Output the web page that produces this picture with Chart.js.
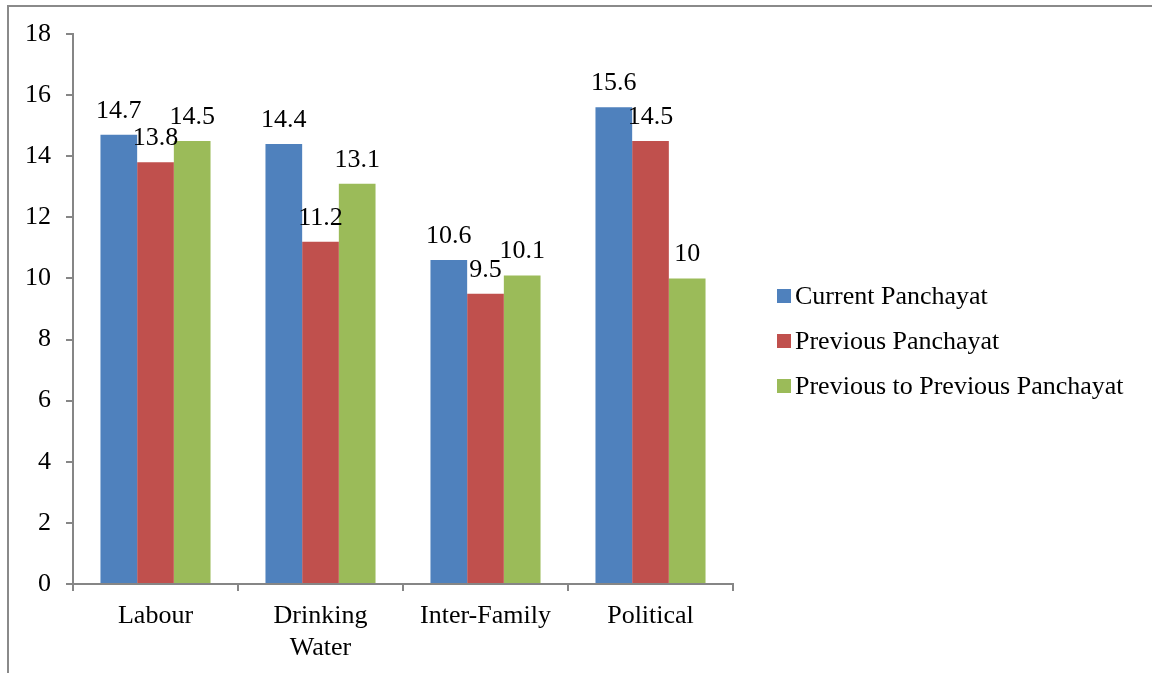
<!DOCTYPE html>
<html>
<head>
<meta charset="utf-8">
<title>Panchayat disputes</title>
<script src="https://cdn.jsdelivr.net/npm/chart.js@4.4.1/dist/chart.umd.min.js"></script>
<style>
  html, body { margin: 0; padding: 0; background: #fff; overflow: hidden; }
  #wrap { position: relative; width: 1152px; height: 673px; }
  #frame {
    position: absolute; left: 7px; top: 5px; width: 1200px; height: 700px;
    border-top: 2px solid #8a8a8a; border-left: 2px solid #8a8a8a;
  }
  #chart { position: absolute; left: 0; top: 0; }
</style>
</head>
<body>
<div id="wrap">
  <div id="frame"></div>
  <canvas id="chart" width="1152" height="673"></canvas>
</div>
<script>
// categorias e séries
const categorias = [['Labour'], ['Drinking', 'Water'], ['Inter-Family'], ['Political']];
const seriesNomes = ['Current Panchayat', 'Previous Panchayat', 'Previous to Previous Panchayat'];
const atual        = [14.7, 14.4, 10.6, 15.6];
const anterior     = [13.8, 11.2, 9.5, 14.5];
const anteAnterior = [14.5, 13.1, 10.1, 10];
const yTicks = [0, 2, 4, 6, 8, 10, 12, 14, 16, 18];

const cores = ['#4F81BD', '#C0504D', '#9BBB59'];
const FONTE = 'Liberation Serif';
const TAM = 26;
const CINZA = '#868686';

// rótulos de valor acima de cada barra
const rotulosPlugin = {
  id: 'rotulos',
  afterDatasetsDraw(chart) {
    const ctx = chart.ctx;
    ctx.save();
    ctx.font = `${TAM}px "${FONTE}"`;
    ctx.fillStyle = '#000';
    ctx.textAlign = 'center';
    ctx.textBaseline = 'alphabetic';
    chart.data.datasets.forEach((ds, i) => {
      chart.getDatasetMeta(i).data.forEach((bar, j) => {
        ctx.fillText(String(ds.data[j]), bar.x, bar.y - 17);
      });
    });
    ctx.restore();
  }
};

// legenda à direita (quadrado pequeno + texto)
const legendaPlugin = {
  id: 'legenda',
  afterDraw(chart) {
    const ctx = chart.ctx;
    const x0 = chart.chartArea.right + 44;
    const yc = 341, passo = 45;
    ctx.save();
    ctx.font = `${TAM}px "${FONTE}"`;
    ctx.textBaseline = 'middle';
    ctx.textAlign = 'left';
    chart.data.datasets.forEach((ds, i) => {
      const y = yc + (i - 1) * passo;
      ctx.fillStyle = ds.backgroundColor;
      ctx.fillRect(x0, y - 7, 14, 14);
      ctx.fillStyle = '#000';
      ctx.fillText(ds.label, x0 + 18, y + 1);
    });
    ctx.restore();
  }
};

new Chart(document.getElementById('chart'), {
  type: 'bar',
  data: {
    labels: categorias,
    datasets: [atual, anterior, anteAnterior].map((d, i) => ({
      label: seriesNomes[i],
      data: d,
      backgroundColor: cores[i],
      borderWidth: 0,
      categoryPercentage: 0.667,
      barPercentage: 1
    }))
  },
  options: {
    responsive: false,
    animation: false,
    layout: { padding: { left: 10, top: 34, right: 419, bottom: 0 } },
    plugins: {
      legend: { display: false },
      tooltip: { enabled: false }
    },
    scales: {
      x: {
        offset: true,
        grid: { offset: true, drawOnChartArea: false, drawTicks: true, tickLength: 7, color: CINZA, lineWidth: 2 },
        border: { display: true, color: CINZA, width: 2 },
        ticks: { font: { family: FONTE, size: TAM, lineHeight: 1.2 }, color: '#000', padding: 10, maxRotation: 0, autoSkip: false },
        afterFit: s => { s.height = 89; }
      },
      y: {
        min: 0,
        max: 18,
        afterBuildTicks: s => { s.ticks = yTicks.map(v => ({ value: v })); },
        grid: { drawOnChartArea: false, drawTicks: true, tickLength: 7, color: CINZA, lineWidth: 2 },
        border: { display: true, color: CINZA, width: 2 },
        ticks: { font: { family: FONTE, size: TAM }, color: '#000', padding: 15 },
        afterFit: s => { s.width = 63; }
      }
    }
  },
  plugins: [rotulosPlugin, legendaPlugin]
});
</script>
</body>
</html>
